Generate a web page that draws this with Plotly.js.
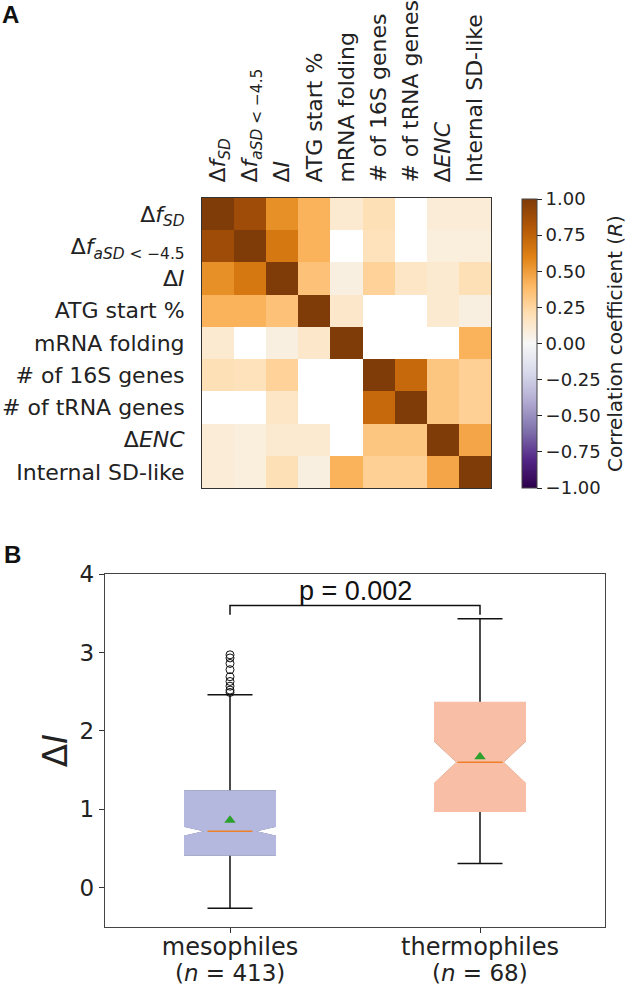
<!DOCTYPE html>
<html>
<head>
<meta charset="utf-8">
<script src="https://cdn.plot.ly/plotly-3.0.1.min.js"></script>
<style>html,body{margin:0;padding:0;background:#fff;}#chart{width:632px;height:987px;}</style>
</head>
<body>
<div id="chart"></div>
<script>
// ---------- Panel A data ----------
const features = [
  "Δ<i>f</i><sub><i>SD</i></sub>",
  "Δ<i>f</i><sub><i>aSD</i> &lt; −4.5</sub>",
  "Δ<i>I</i>",
  "ATG start %",
  "mRNA folding",
  "# of 16S genes",
  "# of tRNA genes",
  "Δ<i>ENC</i>",
  "Internal SD-like"
];
// correlation matrix (null = not significant, shown blank)
const corr = [
  [1.00, 0.88, 0.55, 0.42, 0.12, 0.20, null, 0.10, 0.10],
  [0.88, 1.00, 0.65, 0.42, null, 0.18, null, 0.08, 0.08],
  [0.55, 0.65, 1.00, 0.35, 0.07, 0.27, 0.15, 0.12, 0.20],
  [0.42, 0.42, 0.35, 1.00, 0.14, null, null, 0.12, 0.07],
  [0.12, null, 0.07, 0.14, 1.00, null, null, null, 0.42],
  [0.20, 0.18, 0.27, null, null, 1.00, 0.72, 0.33, 0.28],
  [null, null, 0.15, null, null, 0.72, 1.00, 0.33, 0.28],
  [0.10, 0.08, 0.12, 0.12, null, 0.33, 0.33, 1.00, 0.47],
  [0.10, 0.08, 0.20, 0.07, 0.42, 0.28, 0.28, 0.47, 1.00]
];
const cbTickVals = [-1, -0.75, -0.5, -0.25, 0, 0.25, 0.5, 0.75, 1];
const cbTickText = ["−1.00", "−0.75", "−0.50", "−0.25", "0.00", "0.25", "0.50", "0.75", "1.00"];

// ---------- Panel B data ----------
const groupNames = ["mesophiles", "thermophiles"];
const groupN = ["(<i>n</i> = 413)", "(<i>n</i> = 68)"];
const groupPos = [0, 1];
const q1 = [0.42, 0.98];
const median = [0.72, 1.60];
const q3 = [1.23, 2.36];
const lowerFence = [-0.26, 0.31];
const upperFence = [2.46, 3.43];
const notchSpan = [0.065, 0.27];
const means = [0.86, 1.67];
const boxFill = ["#b4b8de", "#f8bfa6"];
const outlierY = [2.49, 2.52, 2.57, 2.63, 2.69, 2.78, 2.86, 2.93, 2.97];
const outlierGroup = 0;
const bracketY = [3.48, 3.60];
const pText = "p = 0.002";

const W = 632, H = 987;
const boxWidth = 0.36;
const notchHalf = boxWidth * 0.25;

const traces = [];
traces.push({
  type: "heatmap",
  x: features, y: features, z: corr,
  xaxis: "x", yaxis: "y",
  zmin: -1, zmax: 1,
  colorscale: [[0,'#2d004b'],[0.1,'#542788'],[0.2,'#8073ac'],[0.3,'#b2abd2'],[0.4,'#d8daeb'],[0.5,'#f7f7f7'],[0.6,'#fee0b6'],[0.7,'#fdb863'],[0.8,'#e08214'],[0.9,'#b35806'],[1,'#7f3b08']],
  hoverongaps: false,
  colorbar: {
    x: 522 / W, xanchor: "left", xref: "paper", xpad: 0,
    y: 1 - 343.5 / H, yanchor: "middle", ypad: 0,
    lenmode: "pixels", len: 289, thickness: 15,
    outlinewidth: 1, outlinecolor: "#444",
    ticks: "outside", ticklen: 5, tickcolor: "#222",
    tickvals: cbTickVals, ticktext: cbTickText,
    tickfont: { family: "DejaVu Sans", size: 18, color: "#222" },
    title: { text: "Correlation coefficient (<i>R</i>)", side: "right", font: { family: "DejaVu Sans", size: 20, color: "#222" } }
  }
});

groupPos.forEach((p, i) => {
  // layer 1: black whiskers
  traces.push({
    type: "box", xaxis: "x2", yaxis: "y2", x: [p],
    q1: [q1[i]], median: [median[i]], q3: [q3[i]],
    lowerfence: [lowerFence[i]], upperfence: [upperFence[i]],
    notched: true, notchspan: [notchSpan[i]], notchwidth: 0.25,
    width: boxWidth, whiskerwidth: 0.5,
    line: { color: "#111", width: 1.5 }, fillcolor: boxFill[i],
    boxpoints: false, showlegend: false, hoverinfo: "skip"
  });
  // layer 2: box body without outline
  traces.push({
    type: "box", xaxis: "x2", yaxis: "y2", x: [p],
    q1: [q1[i]], median: [median[i]], q3: [q3[i]],
    lowerfence: [q1[i]], upperfence: [q3[i]],
    notched: true, notchspan: [notchSpan[i]], notchwidth: 0.25,
    width: boxWidth, whiskerwidth: 0,
    line: { color: boxFill[i], width: 2 }, fillcolor: boxFill[i],
    boxpoints: false, showlegend: false, hoverinfo: "skip"
  });
});

// median lines
const medX = [], medY = [];
groupPos.forEach((p, i) => { medX.push(p - notchHalf, p + notchHalf, null); medY.push(median[i], median[i], null); });
traces.push({ type: "scatter", mode: "lines", xaxis: "x2", yaxis: "y2", x: medX, y: medY,
  line: { color: "#f07f2a", width: 1.6 }, showlegend: false, hoverinfo: "skip" });

// means
traces.push({ type: "scatter", mode: "markers", xaxis: "x2", yaxis: "y2", x: groupPos, y: means,
  marker: { symbol: "triangle-up", size: 10, color: "#2ca02c" }, showlegend: false });

// outliers
traces.push({ type: "scatter", mode: "markers", xaxis: "x2", yaxis: "y2",
  x: outlierY.map(() => groupPos[outlierGroup]), y: outlierY,
  marker: { symbol: "circle-open", size: 8, color: "#111", line: { width: 1 } }, showlegend: false });

// significance bracket
traces.push({ type: "scatter", mode: "lines", xaxis: "x2", yaxis: "y2",
  x: [groupPos[0], groupPos[0], groupPos[1], groupPos[1]],
  y: [bracketY[0], bracketY[1], bracketY[1], bracketY[0]],
  line: { color: "#111", width: 1.5 }, showlegend: false, hoverinfo: "skip" });

const annotations = [
  { text: "<b>A</b>", xref: "paper", yref: "paper", x: 10 / W, y: 1 - 14 / H,
    xanchor: "center", yanchor: "middle", showarrow: false,
    font: { family: "Liberation Sans", size: 24, color: "#111" } },
  { text: "<b>B</b>", xref: "paper", yref: "paper", x: 12 / W, y: 1 - 554 / H,
    xanchor: "center", yanchor: "middle", showarrow: false,
    font: { family: "Liberation Sans", size: 24, color: "#111" } },
  { text: pText, xref: "x2", yref: "y2", x: (groupPos[0] + groupPos[1]) / 2, y: bracketY[1],
    xanchor: "center", yanchor: "bottom", yshift: -3, showarrow: false,
    font: { family: "Liberation Sans", size: 27, color: "#111" } }
];
groupPos.forEach((p, i) => {
  annotations.push({ text: groupN[i], xref: "x2", yref: "paper", x: p, y: 1 - 973 / H,
    xanchor: "center", yanchor: "middle", showarrow: false,
    font: { family: "DejaVu Sans", size: 23, color: "#222" } });
});

const layout = {
  width: W, height: H,
  margin: { l: 0, r: 0, t: 0, b: 0 },
  paper_bgcolor: "#fff", plot_bgcolor: "#fff",
  font: { family: "DejaVu Sans", size: 18, color: "#222" },
  showlegend: false,
  boxmode: "overlay",
  xaxis: {
    domain: [202 / W, 491 / W], anchor: "y", side: "top",
    tickangle: -90, ticks: "", ticklabelstandoff: 10,
    tickfont: { family: "DejaVu Sans", size: 22, color: "#222" },
    showline: true, mirror: true, linecolor: "#333", linewidth: 1,
    showgrid: false, zeroline: false, fixedrange: true
  },
  yaxis: {
    domain: [1 - 488 / H, 1 - 198 / H], anchor: "x",
    autorange: "reversed", ticks: "", ticklabelstandoff: 12,
    tickfont: { family: "DejaVu Sans", size: 22, color: "#222" },
    showline: true, mirror: true, linecolor: "#333", linewidth: 1,
    showgrid: false, zeroline: false, fixedrange: true
  },
  xaxis2: {
    domain: [105 / W, 605 / W], anchor: "y2",
    range: [-0.5, 1.5], tickvals: groupPos, ticktext: groupNames,
    ticks: "outside", ticklen: 5, tickcolor: "#333", ticklabelstandoff: -7,
    tickfont: { family: "DejaVu Sans", size: 24, color: "#222" },
    showline: true, mirror: true, linecolor: "#444", linewidth: 1.2,
    showgrid: false, zeroline: false
  },
  yaxis2: {
    domain: [1 - 927 / H, 1 - 574 / H], anchor: "x2",
    range: [-0.5, 4], tickvals: [0, 1, 2, 3, 4],
    ticks: "outside", ticklen: 5, tickcolor: "#333",
    tickfont: { family: "DejaVu Sans", size: 23, color: "#222" },
    showline: true, mirror: true, linecolor: "#444", linewidth: 1.2,
    showgrid: false, zeroline: false,
    title: { text: "Δ<i>I</i>", standoff: 1, font: { family: "DejaVu Sans", size: 34, color: "#222" } }
  },
  annotations: annotations
};

Plotly.newPlot("chart", traces, layout, { staticPlot: true, displayModeBar: false });
</script>
</body>
</html>
